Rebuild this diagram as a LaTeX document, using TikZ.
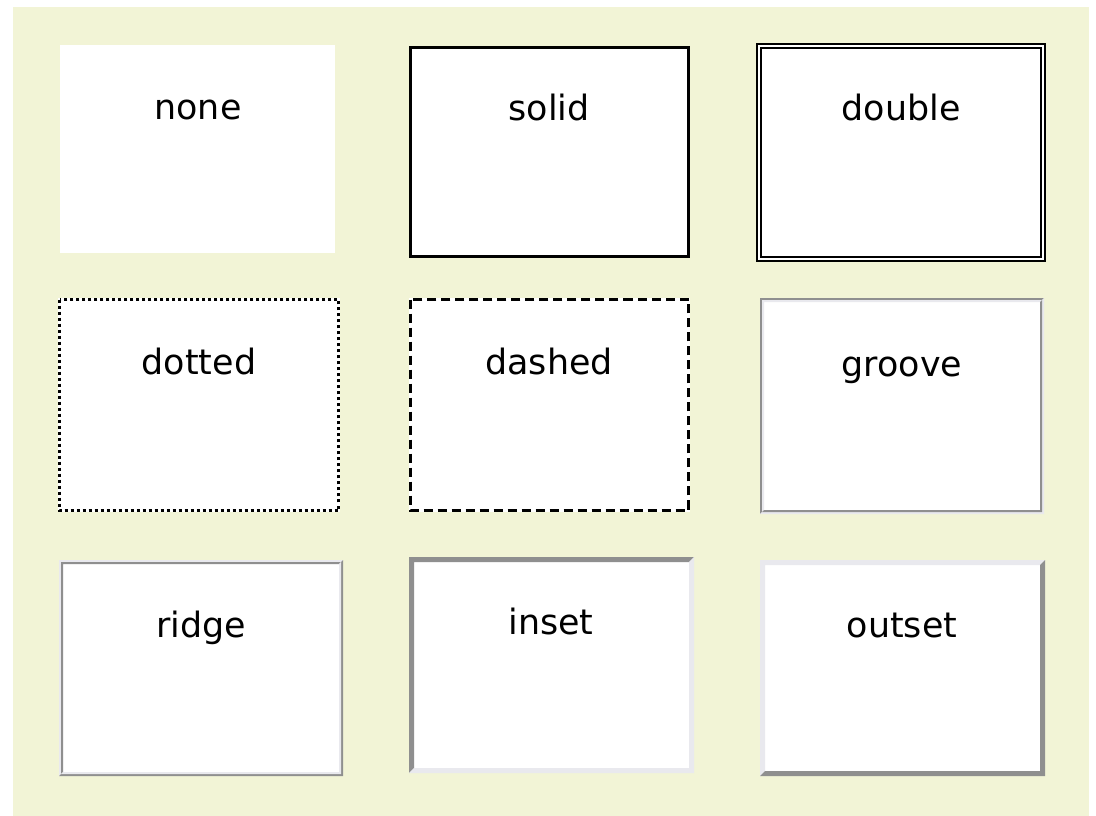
\documentclass[tikz,border=0pt]{standalone}
\usepackage{fontspec}
\setmainfont{DejaVu Sans}
\definecolor{panel}{RGB}{242,244,214}
\definecolor{bevdark}{RGB}{143,143,143}
\definecolor{bevlight}{RGB}{233,233,238}
% bevelled frame: x1 y1 x2 y2 width top-left-colour bottom-right-colour
\newcommand\bevelframe[7]{%
  \fill[#6] (#1,#2) -- (#3,#2) -- (#3-#5,#2+#5) -- (#1+#5,#2+#5) -- (#1+#5,#4-#5) -- (#1,#4) -- cycle;
  \fill[#7] (#3,#2) -- (#3,#4) -- (#1,#4) -- (#1+#5,#4-#5) -- (#3-#5,#4-#5) -- (#3-#5,#2+#5) -- cycle;}
\tikzset{
  label/.style={anchor=base, inner sep=0pt, font=\fontsize{35}{41}\selectfont},
  card/.style={fill=white},
}
\begin{document}
\begin{tikzpicture}[x=1bp, y=-1bp]
\useasboundingbox (0,0) rectangle (1096,816);
\fill[panel] (13,7) rectangle (1089,816);

% row 1
\fill[card] (60,45) rectangle (335,253);
\node[label] (none) at (198,119) {none};

\fill[card] (409,46) rectangle (690,258);
\draw[line width=3bp] (410.5,47.5) rectangle (688.5,256.5);
\node[label] (solid) at (549,120) {solid};

\fill[card] (756,43) rectangle (1046,262);
\draw[line width=2bp] (757,44) rectangle (1045,261);
\draw[line width=2bp] (761,48) rectangle (1041,257);
\node[label] (double) at (901,120) {double};

% row 2
\fill[card] (58,298) rectangle (340,512);
\draw[line width=3bp, dash pattern=on 3bp off 3bp] (59.5,299.5) rectangle (338.5,510.5);
\node[label] (dotted) at (199,374) {dotted};

\fill[card] (409,298) rectangle (690,512);
\draw[line width=3bp, dash pattern=on 9bp off 5bp] (410.5,299.5) rectangle (688.5,510.5);
\node[label] (dashed) at (549,374) {dashed};

\fill[card] (760,298) rectangle (1044,514);
\bevelframe{760}{298}{1044}{514}{2}{bevdark}{bevlight}
\bevelframe{762}{300}{1042}{512}{2}{bevlight}{bevdark}
\node[label] (groove) at (902,376) {groove};

% row 3
\fill[card] (59,560) rectangle (343,776);
\bevelframe{59}{560}{343}{776}{2}{bevlight}{bevdark}
\bevelframe{61}{562}{341}{774}{2}{bevdark}{bevlight}
\node[label] (ridge) at (201,637) {ridge};

\fill[card] (409,557) rectangle (694,773);
\bevelframe{409}{557}{694}{773}{5}{bevdark}{bevlight}
\node[label] (inset) at (551,634) {inset};

\fill[card] (760,560) rectangle (1045,776);
\bevelframe{760}{560}{1045}{776}{5}{bevlight}{bevdark}
\node[label] (outset) at (902,637) {outset};
\end{tikzpicture}
\end{document}
